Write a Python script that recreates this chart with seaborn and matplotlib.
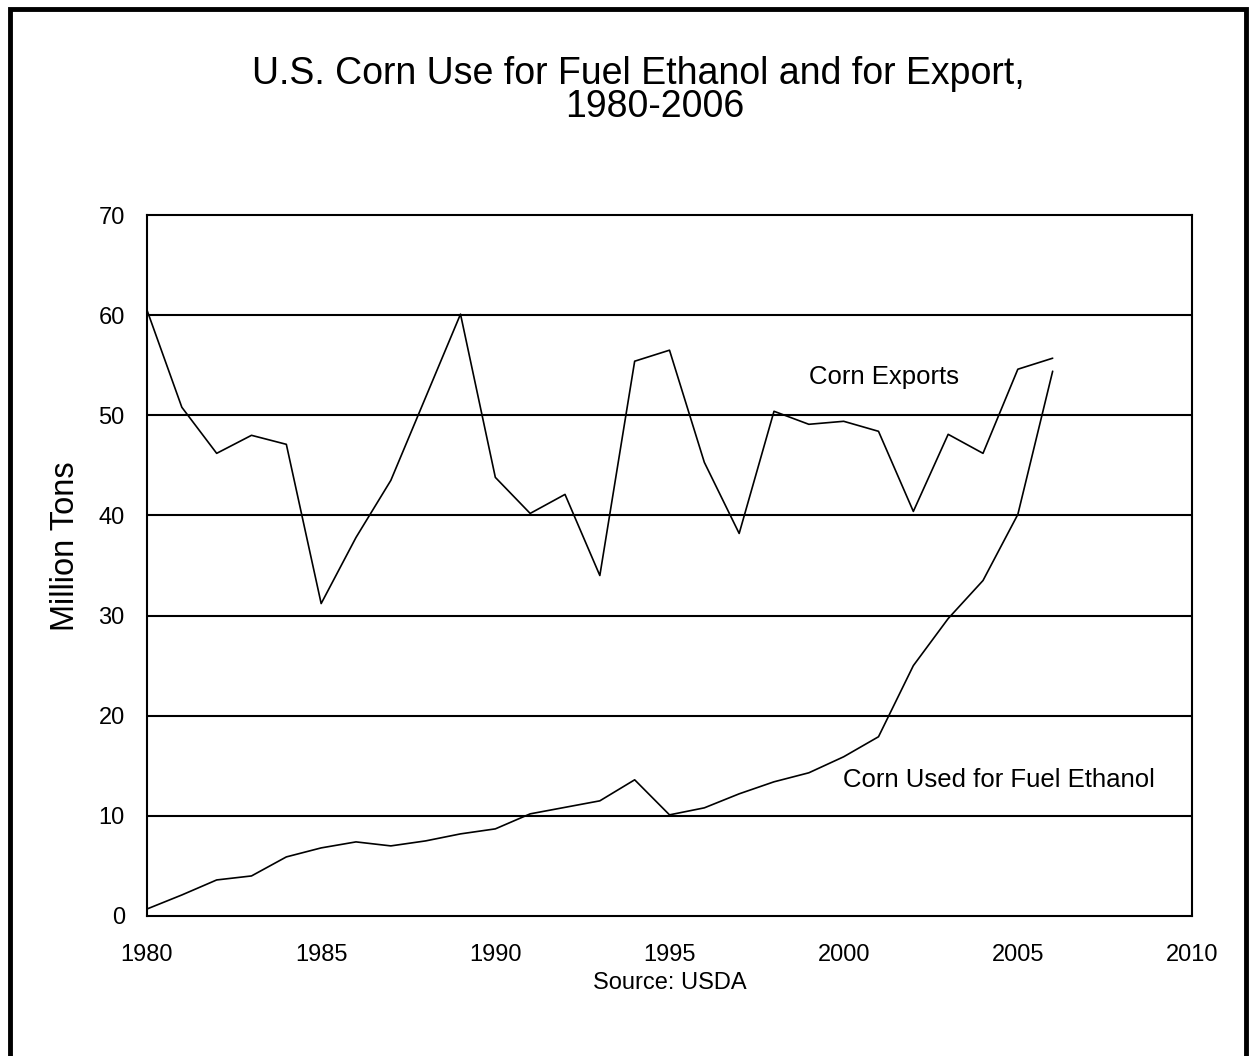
import numpy as np
import pandas as pd
import matplotlib
matplotlib.use("Agg")
import matplotlib.pyplot as plt
from matplotlib.patches import Rectangle
import seaborn as sns

years = list(range(1980, 2007))
corn_exports = [60.5, 50.8, 46.2, 48.0, 47.1, 31.2, 37.8, 43.5, 51.8, 60.1,
                43.8, 40.2, 42.1, 34.0, 55.4, 56.5, 45.3, 38.2, 50.4, 49.1,
                49.4, 48.4, 40.4, 48.1, 46.2, 54.6, 55.7]
corn_ethanol = [0.7, 2.1, 3.6, 4.0, 5.9, 6.8, 7.4, 7.0, 7.5, 8.2,
                8.7, 10.2, 10.85, 11.5, 13.6, 10.1, 10.8, 12.2, 13.4, 14.3,
                15.9, 17.9, 25.0, 29.7, 33.5, 40.1, 54.4]
x_ticks = [1980, 1985, 1990, 1995, 2000, 2005, 2010]
y_ticks = [0, 10, 20, 30, 40, 50, 60, 70]

title_line1 = "U.S. Corn Use for Fuel Ethanol and for Export,"
title_line2 = "1980-2006"
ylabel = "Million Tons"
source = "Source: USDA"
label_exports = "Corn Exports"
label_ethanol = "Corn Used for Fuel Ethanol"

df = pd.DataFrame({
    "year": years * 2,
    "value": corn_exports + corn_ethanol,
    "series": [label_exports] * len(years) + [label_ethanol] * len(years),
})

sns.set_style("white")
plt.rcParams['font.family'] = ['Liberation Sans', 'DejaVu Sans']
plt.rcParams['text.color'] = 'black'
plt.rcParams['axes.labelcolor'] = 'black'

W, H = 1249, 1056
fig = plt.figure(figsize=(W / 100, H / 100), dpi=100)
ax = fig.add_axes([147 / W, 1 - 916 / H, (1192 - 147) / W, (916 - 215) / H])

for yv in y_ticks[1:-1]:
    ax.axhline(yv, color="black", lw=1.5, zorder=1)

sns.lineplot(data=df, x="year", y="value", units="series", estimator=None,
             color="black", lw=1.2, ax=ax, legend=False, zorder=3)

ax.set_xlim(1980, 2010)
ax.set_ylim(0, 70)
ax.set_xticks(x_ticks)
ax.set_yticks(y_ticks)
ax.tick_params(axis="both", direction="out", length=8, width=1.5, color="black",
               labelsize=17, labelcolor="black", pad=8)
ax.tick_params(axis="x", pad=12.5)
for s in ax.spines.values():
    s.set_visible(True)
    s.set_color("black")
    s.set_linewidth(1.5)
ax.set_xlabel("")
ax.set_ylabel("")

ax.text(1999.0, 53.15, label_exports, fontsize=18.5, va="baseline", ha="left")
ax.text(1999.99, 12.9, label_ethanol, fontsize=18.5, va="baseline", ha="left")

fig.text(66 / W, 1 - 546 / H, ylabel, rotation=90, ha="center", va="center",
         fontsize=23.5)
fig.text(669.5 / W, 1 - 989 / H, source, ha="center", va="baseline",
         fontsize=17)
fig.text(638 / W, 1 - 84 / H, title_line1, ha="center", va="baseline",
         fontsize=27)
fig.text(655 / W, 1 - 117 / H, title_line2, ha="center", va="baseline",
         fontsize=27)

fig.patches.append(Rectangle((10 / W, -0.02), (1246 - 10) / W, 1.02 - 9 / H,
                             transform=fig.transFigure, fill=False,
                             edgecolor="black", lw=3.5))

fig.savefig("out.png", dpi=100, facecolor="white")
